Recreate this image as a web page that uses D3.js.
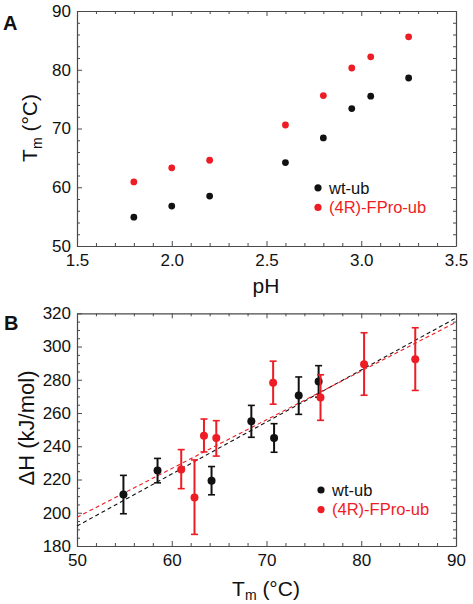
<!DOCTYPE html>
<html><head><meta charset="utf-8">
<script src="https://cdn.jsdelivr.net/npm/d3@7"></script>
<style>
body{margin:0;background:#fff;}
svg{display:block;font-family:"Liberation Sans",Arial,sans-serif;}
</style></head>
<body><svg id="c" width="473" height="604"></svg>
<script>
// ---------- Data ----------
// Panel A: Tm vs pH
const pHValues = [1.8, 2.0, 2.2, 2.6, 2.8, 2.95, 3.05, 3.25];
const tmWt     = [54.9, 56.8, 58.5, 64.2, 68.4, 73.4, 75.5, 78.6];
const tmFPro   = [60.9, 63.3, 64.6, 70.6, 75.6, 80.3, 82.2, 85.6];

// Panel B: dH vs Tm
const bWtTm    = [54.9, 58.5, 64.2, 68.4, 70.8, 73.4, 75.5];
const bWtDH    = [211.0, 225.4, 219.3, 255.0, 245.0, 270.5, 279.0];
const bWtLow   = [199.4, 218.0, 210.8, 245.4, 236.4, 259.2, 269.5];
const bWtHigh  = [222.5, 232.7, 227.8, 264.6, 253.6, 281.7, 288.5];

const bFpTm    = [61.0, 62.4, 63.4, 64.7, 70.7, 75.7, 80.3, 85.7];
const bFpDH    = [226.1, 209.2, 246.4, 245.0, 278.2, 269.4, 289.4, 292.4];
const bFpLow   = [214.5, 187.0, 236.6, 234.1, 265.3, 255.6, 270.7, 273.6];
const bFpHigh  = [238.0, 231.8, 256.4, 255.4, 291.2, 283.0, 308.3, 311.3];

// Linear fits (endpoints)
const fitTm    = [50, 90];
const fitWt    = [192.0, 317.2];
const fitFPro  = [197.3, 314.6];

const legendLabels = ["wt-ub", "(4R)-FPro-ub"];
const ticksApH  = [1.5, 2.0, 2.5, 3.0, 3.5];
const ticksATm  = [50, 60, 70, 80, 90];
const ticksBTm  = [50, 60, 70, 80, 90];
const ticksBDH  = [180, 200, 220, 240, 260, 280, 300, 320];

// ---------- Style ----------
const RED = "#ee1c24", BLK = "#111111", FRAME = "#4a4a4a";
const svg = d3.select("#c");

function frame(g, x, y, xMaj, xMin, yMaj, yMin, xFmt, yFmt) {
  const [x0, x1] = x.range(), [y0, y1] = y.range();
  const mk = (axis, tr, labels) => {
    const a = g.append("g").attr("transform", tr).call(axis);
    a.select(".domain").attr("stroke", FRAME).attr("stroke-width", 1.2);
    a.selectAll(".tick line").attr("stroke", FRAME).attr("stroke-width", 1);
    if (!labels) a.selectAll(".tick text").remove();
    else a.selectAll(".tick text").attr("fill", "#111").style("font-size", "17px");
    return a;
  };
  const minor = (axisFn, vals, tr) => {
    const a = g.append("g").attr("transform", tr)
      .call(axisFn.tickValues(vals).tickSizeInner(-3).tickSizeOuter(0).tickFormat(""));
    a.select(".domain").remove();
    a.selectAll(".tick line").attr("stroke", FRAME).attr("stroke-width", 1);
  };
  minor(d3.axisBottom(x), xMin, `translate(0,${y0})`);
  minor(d3.axisTop(x), xMin, `translate(0,${y1})`);
  minor(d3.axisLeft(y), yMin, `translate(${x0},0)`);
  minor(d3.axisRight(y), yMin, `translate(${x1},0)`);
  mk(d3.axisBottom(x).tickValues(xMaj).tickSizeInner(-5).tickSizeOuter(0).tickPadding(8).tickFormat(xFmt), `translate(0,${y0})`, true);
  mk(d3.axisTop(x).tickValues(xMaj).tickSizeInner(-5).tickSizeOuter(0), `translate(0,${y1})`, false);
  mk(d3.axisLeft(y).tickValues(yMaj).tickSizeInner(-5).tickSizeOuter(0).tickPadding(6).tickFormat(yFmt), `translate(${x0},0)`, true);
  mk(d3.axisRight(y).tickValues(yMaj).tickSizeInner(-5).tickSizeOuter(0), `translate(${x1},0)`, false);
}

function legend(g, x, y) {
  const cols = [BLK, RED];
  legendLabels.forEach((t, i) => {
    g.append("circle").attr("cx", x).attr("cy", y + i * 19.6).attr("r", 3.6).attr("fill", cols[i]);
    g.append("text").attr("x", x + 11).attr("y", y + i * 19.6).attr("dy", "0.35em")
      .attr("fill", cols[i]).style("font-size", "16.5px").text(t);
  });
}

// ---------- Panel A ----------
{
  const g = svg.append("g");
  const x = d3.scaleLinear().domain([1.5, 3.5]).range([77, 456]);
  const y = d3.scaleLinear().domain([50, 90]).range([246, 11]);
  const xMin = d3.range(1.5, 3.5001, 0.1).map(v => +v.toFixed(2)).filter(v => !ticksApH.includes(v));
  const yMin = d3.range(50, 90.001, 2).filter(v => !ticksATm.includes(v));
  frame(g, x, y, ticksApH, xMin, ticksATm, yMin, d3.format(".1f"), d3.format("d"));

  g.selectAll(".pw").data(pHValues).join("circle")
    .attr("cx", d => x(d)).attr("cy", (d, i) => y(tmWt[i])).attr("r", 3.4).attr("fill", BLK);
  g.selectAll(".pr").data(pHValues).join("circle")
    .attr("cx", d => x(d)).attr("cy", (d, i) => y(tmFPro[i])).attr("r", 3.4).attr("fill", RED);

  legend(g, 318, 187.8);

  g.append("text").attr("x", 266).attr("y", 293).attr("text-anchor", "middle")
    .style("font-size", "21px").attr("fill", "#111").text("pH");
  const t = g.append("text").attr("transform", "translate(37,128) rotate(-90)")
    .attr("text-anchor", "middle").style("font-size", "21px").attr("fill", "#111");
  t.append("tspan").text("T");
  t.append("tspan").attr("dy", 5).style("font-size", "14px").text("m");
  t.append("tspan").attr("dy", -5).text("\u00a0(°C)");
  g.append("text").attr("x", 3).attr("y", 29.5).style("font-size", "20px")
    .style("font-weight", "bold").attr("fill", "#111").text("A");
}

// ---------- Panel B ----------
{
  const g = svg.append("g");
  const x = d3.scaleLinear().domain([50, 90]).range([77, 456]);
  const y = d3.scaleLinear().domain([180, 320]).range([546, 313.3]);
  const xMin = d3.range(50, 90.001, 2).filter(v => !ticksBTm.includes(v));
  const yMin = d3.range(180, 320.001, 5).filter(v => !ticksBDH.includes(v));
  frame(g, x, y, ticksBTm, xMin, ticksBDH, yMin, d3.format("d"), d3.format("d"));

  const line = d3.line().x(d => x(d[0])).y(d => y(d[1]));
  g.append("path").attr("d", line(fitTm.map((t, i) => [t, fitWt[i]])))
    .attr("fill", "none").attr("stroke", BLK).attr("stroke-width", 1.1).attr("stroke-dasharray", "4,3");
  g.append("path").attr("d", line(fitTm.map((t, i) => [t, fitFPro[i]])))
    .attr("fill", "none").attr("stroke", RED).attr("stroke-width", 1.1).attr("stroke-dasharray", "4,3");

  function series(tm, dh, lo, hi, col) {
    const s = g.append("g");
    tm.forEach((t, i) => {
      const cx = x(t);
      s.append("line").attr("x1", cx).attr("x2", cx).attr("y1", y(lo[i])).attr("y2", y(hi[i]))
        .attr("stroke", col).attr("stroke-width", 2);
      [lo[i], hi[i]].forEach(v => s.append("line").attr("x1", cx - 3.5).attr("x2", cx + 3.5)
        .attr("y1", y(v)).attr("y2", y(v)).attr("stroke", col).attr("stroke-width", 1.6));
      s.append("circle").attr("cx", cx).attr("cy", y(dh[i])).attr("r", 4).attr("fill", col);
    });
  }
  series(bWtTm, bWtDH, bWtLow, bWtHigh, BLK);
  series(bFpTm, bFpDH, bFpLow, bFpHigh, RED);

  legend(g, 321, 490);

  const t = g.append("text").attr("x", 266).attr("y", 596).attr("text-anchor", "middle")
    .style("font-size", "21px").attr("fill", "#111");
  t.append("tspan").text("T");
  t.append("tspan").attr("dy", 4).style("font-size", "14px").text("m");
  t.append("tspan").attr("dy", -4).text("\u00a0(°C)");
  g.append("text").attr("transform", "translate(34,428) rotate(-90)")
    .attr("text-anchor", "middle").style("font-size", "22px").attr("fill", "#111").text("ΔH (kJ/mol)");
  g.append("text").attr("x", 4).attr("y", 329.5).style("font-size", "20px")
    .style("font-weight", "bold").attr("fill", "#111").text("B");
}
</script></body></html>
